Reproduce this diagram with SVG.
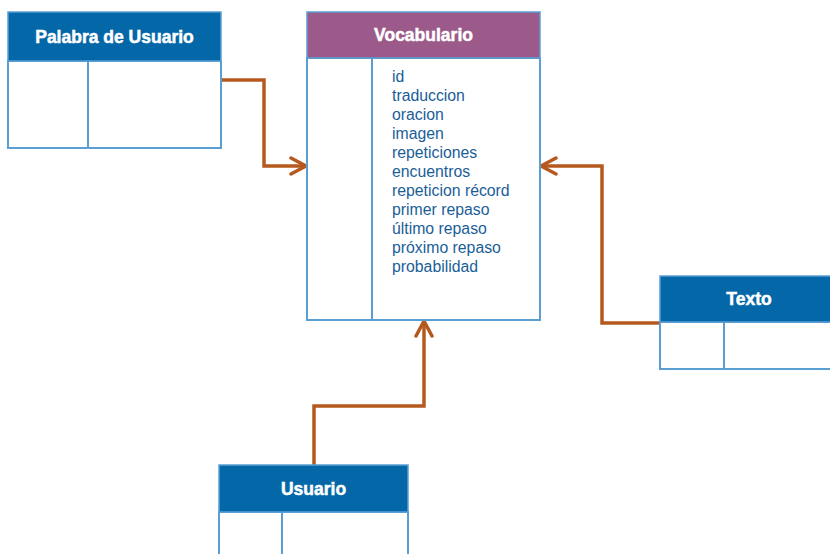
<svg xmlns="http://www.w3.org/2000/svg" width="830" height="554" viewBox="0 0 830 554">
<defs>
<style>
.hdr{fill:#0467a8;stroke:#5a9fd4;stroke-width:1.5}
.hdrv{fill:#9b5a8a;stroke:#5a9fd4;stroke-width:1.5}
.body{fill:#ffffff;stroke:#5a9fd4;stroke-width:2}
.div{stroke:#5a9fd4;stroke-width:2}
.title{font-family:"Liberation Sans",Arial,sans-serif;font-weight:bold;font-size:17.5px;fill:#ffffff;stroke:#ffffff;stroke-width:0.5;text-anchor:middle}
.attr{font-family:"Liberation Sans",Arial,sans-serif;font-size:15.8px;fill:#1a5e98}
.conn{fill:none;stroke:#b5591f;stroke-width:3.5;stroke-linejoin:miter}
</style>
<marker id="arr" viewBox="0 0 20 20" refX="18" refY="10" markerWidth="20" markerHeight="20" markerUnits="userSpaceOnUse" orient="auto">
<path d="M3,2 L18,10 L3,18" fill="none" stroke="#b5591f" stroke-width="3.5" stroke-linecap="round" stroke-linejoin="round"/>
</marker>
</defs>
<rect width="830" height="554" fill="#ffffff"/>
<g id="connectors">
<path class="conn" d="M221,80 H264 V166 H306" marker-end="url(#arr)"/>
<path class="conn" d="M660,323 H602 V166 H541" marker-end="url(#arr)"/>
<path class="conn" d="M314,465 V406 H424 V321" marker-end="url(#arr)"/>
</g>
<g id="palabra">
<rect class="body" x="8" y="61" width="213" height="87"/>
<line class="div" x1="88" y1="61" x2="88" y2="148"/>
<rect class="hdr" x="8" y="12" width="213" height="49"/>
<text class="title" x="114.5" y="43">Palabra de Usuario</text>
</g>
<g id="vocabulario">
<rect class="body" x="307" y="58" width="233" height="262"/>
<line class="div" x1="372" y1="58" x2="372" y2="320"/>
<rect class="hdrv" x="307" y="12" width="233" height="46"/>
<text class="title" x="423.5" y="41">Vocabulario</text>
<text class="attr" x="392" y="82">id</text>
<text class="attr" x="392" y="101">traduccion</text>
<text class="attr" x="392" y="120">oracion</text>
<text class="attr" x="392" y="139">imagen</text>
<text class="attr" x="392" y="158">repeticiones</text>
<text class="attr" x="392" y="177">encuentros</text>
<text class="attr" x="392" y="196">repeticion récord</text>
<text class="attr" x="392" y="215">primer repaso</text>
<text class="attr" x="392" y="234">último repaso</text>
<text class="attr" x="392" y="253">próximo repaso</text>
<text class="attr" x="392" y="272">probabilidad</text>
</g>
<g id="texto">
<rect class="body" x="660" y="322" width="180" height="47"/>
<line class="div" x1="724" y1="322" x2="724" y2="369"/>
<rect class="hdr" x="660" y="276" width="180" height="46"/>
<text class="title" x="749" y="305">Texto</text>
</g>
<g id="usuario">
<rect class="body" x="219" y="512" width="189" height="50"/>
<line class="div" x1="282" y1="512" x2="282" y2="554"/>
<rect class="hdr" x="219" y="465" width="189" height="47"/>
<text class="title" x="313.5" y="495">Usuario</text>
</g>
</svg>
